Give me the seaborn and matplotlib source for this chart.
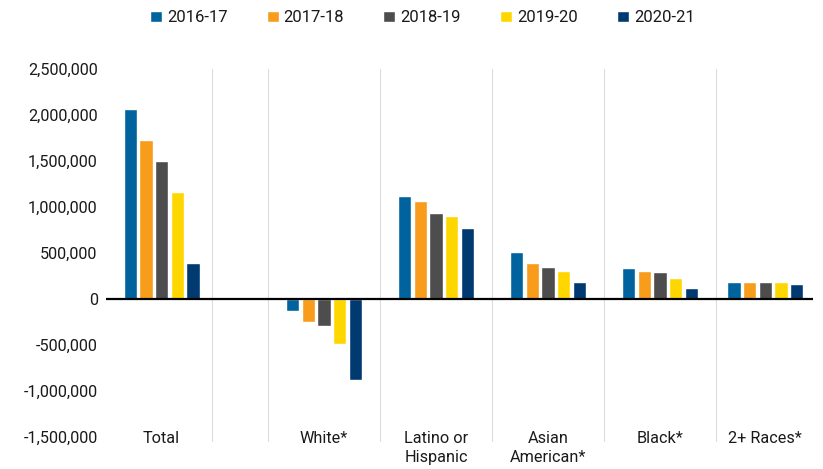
"""
Change in enrollment by race/ethnicity, grouped bars per school year.
"""

import matplotlib
matplotlib.use('Agg')
import matplotlib.pyplot as plt
import matplotlib.ticker as mticker
import pandas as pd
import numpy as np
import seaborn as sns

# data
groups = ['Total', 'White*', 'Latino or\nHispanic', 'Asian\nAmerican*', 'Black*', '2+ Races*']
years = ['2016-17', '2017-18', '2018-19', '2019-20', '2020-21']
total = [2060000, 1730000, 1500000, 1165000, 395000]
white = [-130000, -255000, -295000, -490000, -885000]
latino = [1120000, 1065000, 940000, 905000, 770000]
asian = [510000, 390000, 350000, 300000, 190000]
black = [340000, 305000, 290000, 230000, 125000]
multi = [190000, 188000, 182000, 181000, 167000]
yticks = [-1500000, -1000000, -500000, 0, 500000, 1000000, 1500000, 2000000, 2500000]

colors = ['#00639e', '#f89c1c', '#4d4d4d', '#ffd700', '#003a70']

# layout only: where each group sits and where the separator lines go
group_pos = [0.55, 2.0, 3.0, 4.0, 5.0, 5.94]
separators = [1.0, 1.5, 2.5, 3.5, 4.5, 5.5]


def enrollmentPlot():
    series = [total, white, latino, asian, black, multi]
    rows = []
    for pos, vals in zip(group_pos, series):
        for yr, v in zip(years, vals):
            rows.append({'pos': pos, 'year': yr, 'value': v})
    df = pd.DataFrame(rows)

    sns.set_style('white')
    plt.rcParams['font.family'] = ['Roboto', 'DejaVu Sans']

    fig = plt.figure(figsize=(8.23, 4.69), dpi=100)
    ax = fig.add_axes([106 / 823, 1 - 437 / 469, 707 / 823, 368 / 469])

    min_step = np.diff(sorted(group_pos)).min()
    sns.barplot(data=df, x='pos', y='value', hue='year', hue_order=years, palette=colors,
                native_scale=True, width=0.70 / min_step, gap=0.15, errorbar=None,
                saturation=1, ax=ax)

    ax.set_xlim(0.054, 6.366)
    ax.set_ylim(-1500000, 2500000)
    ax.set_yticks(yticks)
    ax.yaxis.set_major_formatter(mticker.FuncFormatter(lambda v, _: f'{v:,.0f}'))
    ax.set_xticks(group_pos)
    ax.set_xticklabels(groups, linespacing=1.3)
    ax.tick_params(axis='y', length=0, pad=6, labelsize=11.7, labelcolor='#1a1a1a')
    ax.tick_params(axis='x', length=0, pad=-4, labelsize=11.7, labelcolor='#1a1a1a')
    ax.set_xlabel('')
    ax.set_ylabel('')
    sns.despine(ax=ax, left=True, bottom=True)

    for x in separators:
        ax.axvline(x, ymin=-0.012, ymax=1.0, color='#dcdcdc', lw=0.8, zorder=0, clip_on=False)
    ax.axhline(0, color='black', lw=1.6, zorder=3)

    handles, labels = ax.get_legend_handles_labels()
    ax.get_legend().remove()
    fig.legend(handles, labels, loc='center', bbox_to_anchor=(0.513, 0.962), ncol=5,
               frameon=False, fontsize=12, handlelength=0.72, handleheight=0.72,
               handletextpad=0.3, columnspacing=2.35, labelcolor='#1a1a1a')

    fig.savefig('out.png', dpi=100)


if __name__ == '__main__':
    enrollmentPlot()
